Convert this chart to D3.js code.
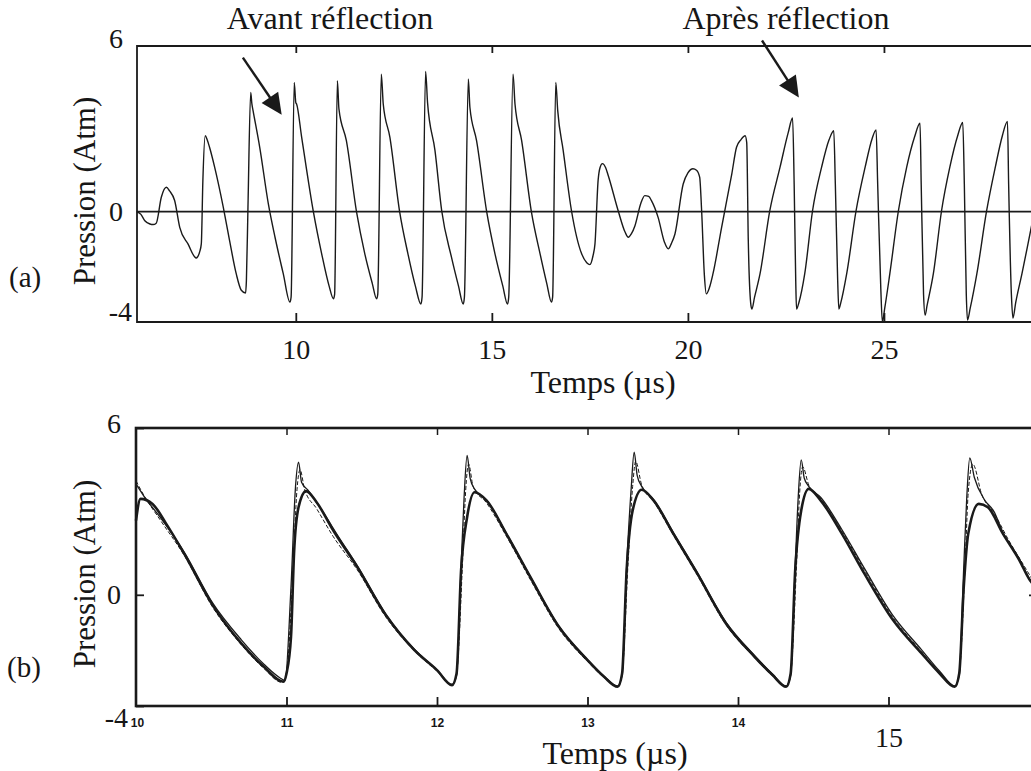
<!DOCTYPE html>
<html>
<head>
<meta charset="utf-8">
<script src="https://cdn.jsdelivr.net/npm/d3@7"></script>
<style>
  html, body { margin: 0; padding: 0; background: #fff; }
  svg { display: block; }
  text { fill: #161616; }
</style>
</head>
<body>
<svg id="fig" width="1031" height="771"></svg>
<script>
// ---------- Panel (a): pressure trace, before and after reflection ----------
const timeA = [
  5.94, 6.05, 6.15, 6.28, 6.36, 6.44, 6.57, 6.70, 6.78, 6.91, 7.04, 7.25, 7.46, 7.55, 7.59, 7.63, 7.69, 7.74,
  7.80, 7.93, 8.15, 8.31, 8.48, 8.61, 8.72, 8.74, 8.78, 8.85, 8.88, 8.91, 9.08, 9.30, 9.47, 9.68, 9.85, 9.88,
  9.96, 10.00, 10.02, 10.15, 10.45, 10.66, 10.85, 10.96, 10.99, 11.06, 11.10, 11.29, 11.55, 11.76, 11.95, 12.06,
  12.09, 12.18, 12.23, 12.40, 12.65, 12.86, 13.05, 13.19, 13.22, 13.31, 13.36, 13.55, 13.72, 13.97, 14.15, 14.27,
  14.30, 14.40, 14.44, 14.61, 14.87, 15.08, 15.28, 15.40, 15.43, 15.54, 15.59, 15.76, 16.01, 16.23, 16.40, 16.52,
  16.55, 16.63, 16.68, 16.82, 17.03, 17.29, 17.42, 17.50, 17.58, 17.63, 17.71, 17.76, 17.82, 17.90, 17.97, 18.22,
  18.40, 18.48, 18.56, 18.65, 18.80, 18.90, 19.00, 19.07, 19.24, 19.40, 19.50, 19.58, 19.67, 19.88, 20.00, 20.13,
  20.22, 20.30, 20.35, 20.42, 20.47, 20.55, 20.64, 20.86, 21.12, 21.24, 21.35, 21.46, 21.50, 21.54, 21.60, 21.63,
  21.70, 21.84, 22.09, 22.35, 22.56, 22.67, 22.71, 22.75, 22.77, 22.83, 22.98, 23.18, 23.41, 23.60, 23.72, 23.76,
  23.82, 23.85, 23.90, 24.05, 24.29, 24.52, 24.70, 24.80, 24.84, 24.92, 24.96, 25.02, 25.15, 25.37, 25.58, 25.78,
  25.92, 25.95, 26.01, 26.05, 26.10, 26.26, 26.47, 26.68, 26.88, 27.01, 27.05, 27.10, 27.13, 27.20, 27.37, 27.62,
  27.84, 28.02, 28.15, 28.18, 28.25, 28.29, 28.36, 28.52, 28.69, 28.85
];
const pressureA = [
  0.00, -0.10, -0.33, -0.45, -0.47, -0.42, 0.52, 0.88, 0.75, 0.40, -0.57, -1.17, -1.68, -1.45, -1.17, 1.13, 2.75, 2.60,
  2.33, 1.61, 0.16, -1.04, -2.25, -2.85, -2.95, -2.50, 0.16, 4.32, 3.90, 3.66, 2.33, 0.28, -0.93, -2.25, -3.28, -3.10,
  4.68, 3.95, 3.90, 2.69, -0.02, -1.53, -2.70, -3.16, -3.00, 4.74, 3.72, 2.57, -0.02, -1.53, -2.60, -3.16,
  -3.00, 4.98, 3.90, 2.69, -0.02, -1.53, -2.70, -3.35, -3.10, 5.08, 3.95, 2.21, 0.04, -1.65, -2.70, -3.35,
  -3.10, 4.81, 3.78, 2.57, -0.02, -1.53, -2.70, -3.35, -3.10, 4.98, 3.90, 2.57, -0.02, -1.53, -2.60, -3.28,
  -3.10, 4.68, 3.66, 2.21, 0.04, -1.53, -1.85, -1.92, -1.60, -1.17, 1.13, 1.60, 1.74, 1.60, 1.30, 0.04,
  -0.75, -0.93, -0.80, -0.51, 0.30, 0.58, 0.55, 0.40, -0.21, -1.10, -1.35, -1.15, -0.81, 1.00, 1.40, 1.55,
  1.50, 1.25, 0.04, -2.30, -2.98, -2.75, -2.25, -0.57, 1.37, 2.33, 2.60, 2.75, 2.50, -1.05, -3.30, -3.53,
  -3.10, -2.25, 0.04, 1.61, 2.87, 3.39, 1.00, -2.50, -3.53, -3.30, -2.25, 0.04, 1.61, 2.60, 2.93, 1.00,
  -2.50, -3.53, -3.30, -2.25, 0.04, 1.61, 2.65, 2.96, 1.00, -2.80, -4.00, -3.50, -2.25, 0.04, 1.61, 2.70,
  3.20, 1.00, -3.00, -3.75, -3.40, -2.25, 0.04, 1.61, 2.75, 3.23, 1.00, -3.00, -3.93, -3.50, -2.25, 0.04,
  1.61, 2.75, 3.27, 1.00, -3.00, -3.86, -3.30, -2.25, -1.05, 0.10
];
const xTicksA = [10, 15, 20, 25];
const yTicksA = [-4, 0, 6];

// ---------- Panel (b): measured vs. simulated cycles ----------
// thick curve (simulation)
const timeSim = [
  10.00, 10.03, 10.11, 10.20, 10.32, 10.51, 10.70, 10.85, 10.98, 11.00, 11.03, 11.05, 11.08, 11.13, 11.20, 11.31,
  11.47, 11.66, 11.85, 12.00, 12.10, 12.13, 12.16, 12.20, 12.25, 12.33, 12.46, 12.62, 12.81, 13.00, 13.11, 13.20,
  13.23, 13.26, 13.30, 13.36, 13.44, 13.57, 13.73, 13.92, 14.11, 14.23, 14.32, 14.35, 14.38, 14.42, 14.47, 14.55,
  14.69, 14.84, 15.03, 15.22, 15.34, 15.44, 15.47, 15.50, 15.53, 15.60, 15.66, 15.76, 15.87, 15.94, 16.00
];
const pressureSim = [
  2.67, 3.45, 3.27, 2.56, 1.48, -0.38, -1.75, -2.59, -3.13, -2.83, -1.51, 1.48, 3.15, 3.73, 3.33, 2.32,
  1.00, -0.73, -1.99, -2.71, -3.25, -2.83, 0.88, 2.79, 3.69, 3.39, 2.20, 0.64, -1.15, -2.35, -2.95, -3.31,
  -2.83, 0.88, 3.03, 3.78, 3.39, 2.20, 0.76, -1.03, -2.23, -2.89, -3.31, -2.83, 0.88, 3.03, 3.81, 3.39,
  2.20, 0.76, -0.91, -2.11, -2.83, -3.31, -2.83, 0.28, 2.20, 3.27, 3.15, 2.20, 1.24, 0.52, 0.20
];
// thin curve (measurement, with the shock spike)
const timeMes = [
  10.00, 10.05, 10.16, 10.32, 10.51, 10.70, 10.85, 10.96, 10.99, 11.03, 11.06, 11.08, 11.10, 11.14, 11.24, 11.35,
  11.47, 11.66, 11.85, 12.00, 12.10, 12.13, 12.16, 12.18, 12.20, 12.22, 12.25, 12.33, 12.46, 12.62, 12.81, 13.00,
  13.11, 13.20, 13.23, 13.26, 13.29, 13.31, 13.33, 13.36, 13.44, 13.57, 13.73, 13.92, 14.11, 14.23, 14.32, 14.35,
  14.38, 14.40, 14.42, 14.44, 14.47, 14.55, 14.69, 14.84, 15.03, 15.22, 15.34, 15.44, 15.47, 15.50, 15.52, 15.54,
  15.57, 15.64, 15.70, 15.76, 15.87, 15.94, 16.00
];
const pressureMes = [
  3.99, 3.57, 2.79, 1.54, -0.30, -1.62, -2.50, -3.00, -3.08, 0.30, 3.90, 4.77, 4.05, 3.78, 3.00, 2.05,
  1.05, -0.70, -1.96, -2.70, -3.22, -2.90, 1.00, 3.50, 5.01, 4.20, 3.80, 3.40, 2.22, 0.66, -1.13, -2.33,
  -2.93, -3.28, -2.90, 1.00, 3.80, 5.13, 4.30, 3.90, 3.42, 2.25, 0.80, -0.98, -2.18, -2.85, -3.28, -2.90,
  1.00, 3.50, 4.85, 4.20, 3.90, 3.50, 2.35, 0.95, -0.75, -1.98, -2.75, -3.28, -2.90, 1.00, 3.50, 4.92,
  4.23, 3.40, 3.00, 2.25, 1.28, 0.55, 0.22
];
// dashed curve
const timeDash = [
  10.00, 10.05, 10.16, 10.32, 10.51, 10.70, 10.85, 10.97, 11.00, 11.04, 11.07, 11.09, 11.12, 11.20, 11.31, 11.47,
  11.66, 11.85, 12.00, 12.10, 12.13, 12.17, 12.19, 12.21, 12.24, 12.33, 12.46, 12.62, 12.81, 13.00, 13.11, 13.20,
  13.23, 13.27, 13.30, 13.32, 13.36, 13.44, 13.57, 13.73, 13.92, 14.11, 14.23, 14.32, 14.35, 14.39, 14.41, 14.43,
  14.47, 14.55, 14.69, 14.84, 15.03, 15.22, 15.34, 15.44, 15.47, 15.51, 15.53, 15.56, 15.62, 15.70, 15.80, 15.90,
  16.00
];
const pressureDash = [
  4.10, 3.60, 2.70, 1.42, -0.45, -1.80, -2.65, -3.15, -2.80, 0.50, 3.80, 4.50, 3.80, 3.10, 2.10, 0.90,
  -0.80, -2.02, -2.75, -3.25, -2.85, 1.20, 3.70, 4.70, 3.90, 3.30, 2.12, 0.55, -1.22, -2.40, -2.98, -3.30,
  -2.85, 1.20, 3.90, 4.80, 3.95, 3.35, 2.15, 0.70, -1.08, -2.26, -2.92, -3.30, -2.85, 1.20, 3.70, 4.60,
  3.95, 3.45, 2.30, 0.88, -0.82, -2.05, -2.80, -3.30, -2.85, 1.20, 3.70, 4.70, 3.60, 2.95, 1.95, 1.05,
  0.15
];
const xTicksB = [10, 11, 12, 13, 14, 15];
const yTicksB = [-4, 0, 6];

const labelsAnnot = ["Avant réflection", "Après réflection"];
const panelLetters = ["(a)", "(b)"];
const yTitle = "Pression (Atm)";
const xTitle = "Temps (µs)";

// ---------- drawing ----------
const svg = d3.select("#fig");
const SERIF = "'Liberation Serif', 'Times New Roman', serif";
const SANS = "'Liberation Sans', Arial, sans-serif";
const INK = "#1a1a1a";

function zip(ts, ps) { return ts.map((t, i) => [t, ps[i]]); }

// ----- panel (a) -----
const xA = d3.scaleLinear().domain([5.95, 30]).range([137, 1080]);
const yA = d3.scaleLinear().domain([-4, 6]).range([322, 46]);
const gA = svg.append("g");

// zero reference line
gA.append("line")
  .attr("x1", xA(5.95)).attr("x2", xA(30))
  .attr("y1", yA(0)).attr("y2", yA(0))
  .attr("stroke", INK).attr("stroke-width", 1.6);

const lineA = d3.line().curve(d3.curveMonotoneX).x(d => xA(d[0])).y(d => yA(d[1]));
gA.append("path")
  .datum(zip(timeA, pressureA))
  .attr("d", lineA)
  .attr("fill", "none")
  .attr("stroke", INK)
  .attr("stroke-width", 1.4)
  .attr("stroke-linejoin", "round");

// frame
gA.append("path")
  .attr("d", `M${xA(30)},${yA(6)}H${xA(5.95)}V${yA(-4)}H${xA(30)}`)
  .attr("fill", "none").attr("stroke", INK).attr("stroke-width", 1.8);

// bottom axis (ticks pointing inward)
const axBA = gA.append("g").attr("transform", `translate(0,${yA(-4)})`)
  .call(d3.axisBottom(xA).tickValues(xTicksA).tickSize(-9).tickPadding(17).tickFormat(d3.format("d")));
axBA.select(".domain").remove();
axBA.selectAll("line").attr("stroke", INK).attr("stroke-width", 1.8);
axBA.selectAll("text").attr("font-family", SERIF).attr("font-size", 28).attr("fill", INK);

// top axis ticks
const axTA = gA.append("g").attr("transform", `translate(0,${yA(6)})`)
  .call(d3.axisTop(xA).tickValues(xTicksA).tickSize(-7).tickFormat(""));
axTA.select(".domain").remove();
axTA.selectAll("line").attr("stroke", INK).attr("stroke-width", 1.8);

// left axis labels
const axLA = gA.append("g").attr("transform", `translate(${xA(5.95)},0)`)
  .call(d3.axisLeft(yA).tickValues(yTicksA).tickSize(0).tickPadding(15).tickFormat(d => d < 0 ? "-" + Math.abs(d) : d));
axLA.select(".domain").remove();
axLA.selectAll("text").attr("font-family", SERIF).attr("font-size", 28).attr("fill", INK)
  .attr("dy", d => d === 6 ? "0.05em" : d === -4 ? "-0.05em" : "0.32em")
  .attr("x", d => d === -4 ? -5 : -14);

// ----- panel (b) -----
const xB = d3.scaleLinear().domain([10, 16]).range([136, 1039]);
const yB = d3.scaleLinear().domain([-4, 6]).range([706, 428]);
const gB = svg.append("g");
const lineB = d3.line().curve(d3.curveMonotoneX).x(d => xB(d[0])).y(d => yB(d[1]));

gB.append("path").datum(zip(timeDash, pressureDash)).attr("d", lineB)
  .attr("fill", "none").attr("stroke", INK).attr("stroke-width", 1.0)
  .attr("stroke-dasharray", "4,2");
gB.append("path").datum(zip(timeMes, pressureMes)).attr("d", lineB)
  .attr("fill", "none").attr("stroke", INK).attr("stroke-width", 1.3)
  .attr("stroke-linejoin", "round");
gB.append("path").datum(zip(timeSim, pressureSim)).attr("d", lineB)
  .attr("fill", "none").attr("stroke", INK).attr("stroke-width", 2.6)
  .attr("stroke-linejoin", "round");

gB.append("rect")
  .attr("x", xB(10)).attr("y", yB(6))
  .attr("width", xB(16) - xB(10)).attr("height", yB(-4) - yB(6))
  .attr("fill", "none").attr("stroke", INK).attr("stroke-width", 2.6);

const axBB = gB.append("g").attr("transform", `translate(0,${yB(-4)})`)
  .call(d3.axisBottom(xB).tickValues(xTicksB).tickSize(-9).tickPadding(12).tickFormat(d3.format("d")));
axBB.select(".domain").remove();
axBB.selectAll("line").attr("stroke", INK).attr("stroke-width", 1.8);
axBB.selectAll(".tick").filter(d => d === 10).select("line").remove();
axBB.selectAll("text")
  .attr("fill", INK)
  .attr("font-family", d => d === 15 ? SERIF : SANS)
  .attr("font-weight", d => d === 15 ? "normal" : "bold")
  .attr("font-size", d => d === 15 ? 28 : 12)
  .attr("dy", d => d === 15 ? "1.05em" : "0.71em")
  .attr("x", d => d === 10 ? 1 : 0);

const axTB = gB.append("g").attr("transform", `translate(0,${yB(6)})`)
  .call(d3.axisTop(xB).tickValues(xTicksB.filter(d => d > 10)).tickSize(-7).tickFormat(""));
axTB.select(".domain").remove();
axTB.selectAll("line").attr("stroke", INK).attr("stroke-width", 1.5);

const axLB = gB.append("g").attr("transform", `translate(${xB(10)},0)`)
  .call(d3.axisLeft(yB).tickValues(yTicksB).tickSize(-8).tickPadding(14).tickFormat(d => d < 0 ? "-" + Math.abs(d) : d));
axLB.select(".domain").remove();
axLB.selectAll("line").attr("stroke", INK).attr("stroke-width", 1.8);
axLB.selectAll("text").attr("font-family", SERIF).attr("font-size", 28).attr("fill", INK)
  .attr("dy", d => d === 6 ? "0.15em" : d === -4 ? "0.72em" : "0.32em")
  .attr("x", d => d === -4 ? -8 : -15);

const axRB = gB.append("g").attr("transform", `translate(${xB(16)},0)`)
  .call(d3.axisRight(yB).tickValues([0]).tickSize(-10).tickFormat(""));
axRB.select(".domain").remove();
axRB.selectAll("line").attr("stroke", INK).attr("stroke-width", 1.8);

// ----- titles -----
function yLabel(cy) {
  svg.append("text")
    .attr("transform", `translate(95,${cy}) rotate(-90)`)
    .attr("text-anchor", "middle")
    .attr("font-family", SERIF).attr("font-size", 31)
    .text(yTitle);
}
yLabel(191);
yLabel(574);

svg.append("text").attr("x", 603).attr("y", 393).attr("text-anchor", "middle")
  .attr("font-family", SERIF).attr("font-size", 32).text(xTitle);
svg.append("text").attr("x", 615).attr("y", 764).attr("text-anchor", "middle")
  .attr("font-family", SERIF).attr("font-size", 32).text(xTitle);

svg.append("text").attr("x", 9).attr("y", 287)
  .attr("font-family", SERIF).attr("font-size", 29).text(panelLetters[0]);
svg.append("text").attr("x", 7).attr("y", 677)
  .attr("font-family", SERIF).attr("font-size", 29).text(panelLetters[1]);

// ----- annotations with arrows (arrow ends given in panel-(a) data units) -----
const arrows = [
  { text: labelsAnnot[0], tx: 330, from: [8.65, 5.58], to: [9.64, 3.51] },
  { text: labelsAnnot[1], tx: 786, from: [21.89, 6.20], to: [22.83, 4.13] }
];
arrows.forEach(a => {
  svg.append("text").attr("x", a.tx).attr("y", 29).attr("text-anchor", "middle")
    .attr("font-family", SERIF).attr("font-size", 32).text(a.text);
  const x0 = xA(a.from[0]), y0 = yA(a.from[1]);
  const x1 = xA(a.to[0]), y1 = yA(a.to[1]);
  const len = Math.hypot(x1 - x0, y1 - y0);
  const ux = (x1 - x0) / len, uy = (y1 - y0) / len;
  const hl = 21, hw = 10;
  const bx = x1 - hl * ux, by = y1 - hl * uy;
  svg.append("line").attr("x1", x0).attr("y1", y0).attr("x2", bx + 2 * ux).attr("y2", by + 2 * uy)
    .attr("stroke", INK).attr("stroke-width", 2.4);
  svg.append("path")
    .attr("d", `M${x1},${y1}L${bx - hw * uy},${by + hw * ux}L${bx + hw * uy},${by - hw * ux}Z`)
    .attr("fill", INK);
});
</script>
</body>
</html>
